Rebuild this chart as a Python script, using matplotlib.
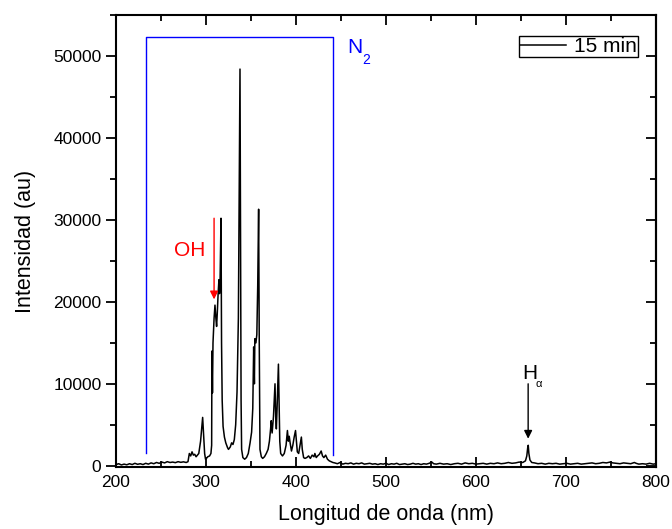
import numpy as np
import matplotlib
matplotlib.use("Agg")
import matplotlib.pyplot as plt
from matplotlib.ticker import MultipleLocator

plt.rcParams['font.family'] = ['Liberation Sans', 'DejaVu Sans']

# spectrum (nm, au)
wl = [200, 203, 206, 209, 212, 215, 218, 221, 224, 227, 230, 233, 236, 239, 242, 245, 248, 251,
      254, 257, 260, 263, 266, 269, 272, 275, 278, 280, 281.5, 283, 284.5, 286, 287.5, 289, 290.5,
      292, 294, 296.3, 297.5, 298.5, 299.5, 300.5, 302, 304, 305.5, 306.3, 306.6, 307.2, 307.8,
      309, 310, 311, 311.8, 312.5, 313.5, 314.4, 315, 315.6, 316.7, 317.3, 318, 319, 320.5, 322,
      324, 325, 327, 328.5, 330, 331.5, 333, 334.5, 336, 337, 337.8, 338.4, 339, 339.6, 341, 343,
      345, 347, 349, 350.7, 352, 353, 353.8, 354.3, 355.5, 356.5, 357.5, 358.5, 359.2, 360, 361.5,
      363, 365, 367, 369, 370.5, 371.8, 372.5, 373.5, 375, 376.7, 377.5, 378.2, 379, 380.5, 381.3,
      382, 383, 385, 387, 389, 390.5, 391.5, 392.5, 393.5, 395, 396.5, 398, 399.5, 400.5, 401.5,
      403, 404.5, 406, 407, 408.5, 410, 412, 414, 416, 418, 420, 421, 422.5, 424, 426, 428, 429.5,
      431, 433, 435, 437, 439, 441, 443, 446, 449, 452, 455, 458, 461, 464, 467, 470, 473, 476,
      479, 482, 485, 488, 491, 494, 497, 500, 503, 506, 509, 512, 515, 518, 521, 524, 527, 530,
      533, 536, 539, 542, 545, 548, 551, 553, 556, 560, 564, 568, 572, 576, 580, 584, 588, 592,
      596, 600, 604, 608, 612, 616, 620, 624, 628, 632, 636, 640, 644, 648, 652, 655, 656.5,
      657.5, 658.1, 658.8, 660, 662, 665, 669, 673, 677, 681, 685, 689, 693, 697, 701, 705, 709,
      713, 717, 721, 725, 729, 733, 737, 741, 745, 749, 752, 756, 760, 764, 768, 772, 776, 778,
      781, 785, 789, 793, 797, 800]
inten = [150, 250, 100, 200, 120, 250, 150, 300, 180, 250, 150, 300, 200, 350, 250, 400, 300, 450,
         350, 500, 400, 450, 380, 500, 420, 480, 400, 500, 1500, 1200, 1700, 1300, 1400, 1100, 1300,
         1500, 3000, 5900, 3500, 1500, 800, 900, 1100, 1200, 1500, 2500, 14000, 8900, 15000,
         18000, 19600, 18000, 17000, 18500, 21000, 22700, 21000, 22000, 30200, 15000, 8000, 4800,
         3500, 2800, 2200, 2000, 2300, 2800, 2600, 3200, 5000, 9000, 18000, 35000, 48400, 30000,
         8000, 2000, 1000, 800, 1000, 1500, 2800, 4100, 7000, 14500, 10000, 15500, 15000, 16000,
         22000, 31300, 15000, 2000, 1100, 900, 1100, 1500, 2000, 3000, 4500, 5500, 4000, 6000,
         10000, 6000, 4500, 7000, 12400, 7000, 3000, 1500, 1200, 1500, 2500, 4300, 3000, 3600,
         2800, 1800, 2500, 3500, 4300, 3000, 1700, 1500, 2500, 3500, 2000, 1000, 900, 1000, 1200,
         900, 1300, 1100, 1500, 1000, 1200, 1400, 1800, 1200, 1000, 1300, 800, 600, 500, 400, 350,
         250, 400, 200, 300, 250, 350, 200, 300, 250, 350, 200, 250, 300, 200, 250, 150, 250, 200,
         300, 150, 250, 200, 300, 150, 200, 250, 150, 200, 300, 200, 250, 150, 250, 200, 300, 450,
         250, 200, 300, 200, 250, 150, 250, 300, 200, 350, 250, 300, 200, 250, 300, 200, 300, 250,
         350, 250, 300, 400, 300, 350, 450, 400, 600, 1200, 2200, 2500, 1500, 700, 400, 350, 250,
         300, 200, 300, 250, 300, 200, 250, 300, 200, 250, 300, 200, 250, 300, 350, 250, 300, 400,
         350, 450, 350, 300, 250, 350, 300, 250, 400, 300, 200, 250, 200, 300, 200, 250]

# N2 bracket (nm, au)
n2_x = [233, 233, 441, 441]
n2_y = [1600, 52300, 52300, 1300]

fig = plt.figure(figsize=(6.72, 5.29), dpi=100)
ax = fig.add_axes([0.1726, 0.1172, 0.8035, 0.8545])

ax.plot(wl, inten, color='black', lw=1.1, label='15 min')
ax.plot(n2_x, n2_y, color='blue', lw=1.0)

ax.text(456.5, 50300, 'N', color='blue', fontsize=15)
ax.text(473.5, 49000, '2', color='blue', fontsize=10)
ax.text(282, 26300, 'OH', color='red', fontsize=15, ha='center', va='center')
ax.annotate('', xy=(309, 20300), xytext=(309, 30200),
            arrowprops=dict(arrowstyle='-|>', color='red', lw=1, mutation_scale=12,
                            shrinkA=0, shrinkB=0))
ax.text(651, 10600, 'H', color='black', fontsize=15)
ax.text(666, 9600, '\u03b1', color='black', fontsize=8)
ax.annotate('', xy=(658, 3300), xytext=(658, 10000),
            arrowprops=dict(arrowstyle='-|>', color='black', lw=1, mutation_scale=12,
                            shrinkA=0, shrinkB=0))

ax.set_xlim(200, 800)
ax.set_ylim(-150, 55000)
ax.xaxis.set_major_locator(MultipleLocator(100))
ax.xaxis.set_minor_locator(MultipleLocator(50))
ax.yaxis.set_major_locator(MultipleLocator(10000))
ax.yaxis.set_minor_locator(MultipleLocator(5000))

ax.tick_params(axis='x', which='both', direction='in', top=True, labelsize=12.5, width=1.3, pad=6)
ax.tick_params(axis='y', which='both', direction='out', labelsize=12.5, width=1.3)
ax.tick_params(which='major', length=7)
ax.tick_params(which='minor', length=4)
for s in ax.spines.values():
    s.set_linewidth(1.5)

# right side ticks point inward
ay = ax.secondary_yaxis('right')
ay.yaxis.set_major_locator(MultipleLocator(10000))
ay.yaxis.set_minor_locator(MultipleLocator(5000))
ay.tick_params(which='both', direction='in', labelright=False, width=1.3)
ay.tick_params(which='major', length=7)
ay.tick_params(which='minor', length=4)
ay.spines['right'].set_linewidth(1.5)

ax.set_xlabel('Longitud de onda (nm)', fontsize=15.5, labelpad=10)
ax.set_ylabel('Intensidad (au)', fontsize=15.5, labelpad=12)

ax.legend(loc='upper right', bbox_to_anchor=(0.967, 0.954), borderaxespad=0,
          fontsize=15, fancybox=False, edgecolor='black', framealpha=1,
          borderpad=0.05, handlelength=2.2, handletextpad=0.4)

fig.savefig('out.png', dpi=100)
